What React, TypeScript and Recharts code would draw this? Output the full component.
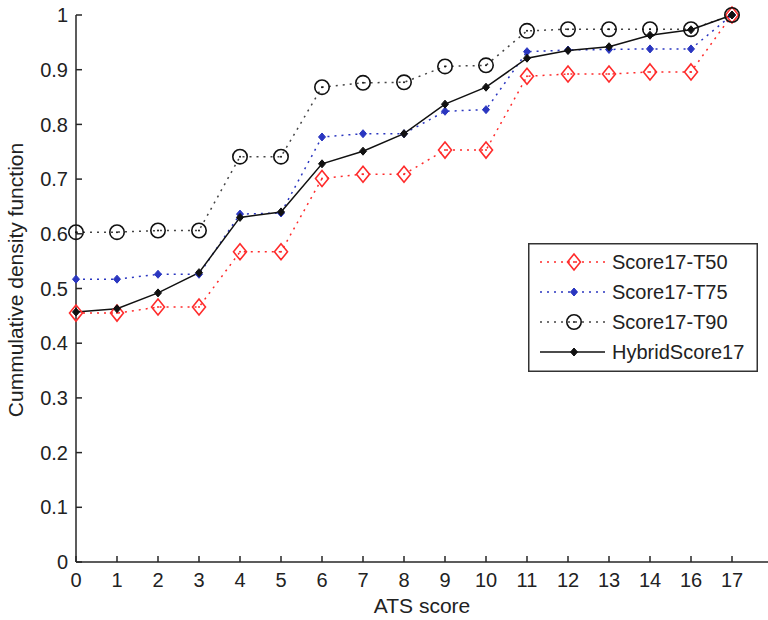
import React from 'react';
import { LineChart, Line, XAxis, YAxis, Legend } from 'recharts';

const atsScores = ['0', '1', '2', '3', '4', '5', '6', '7', '8', '9', '10', '11', '12', '13', '14', '16', '17'];
const scoreT50 = [0.455, 0.455, 0.466, 0.466, 0.567, 0.567, 0.701, 0.709, 0.709, 0.753, 0.753, 0.888, 0.892, 0.892, 0.896, 0.896, 1.0];
const scoreT75 = [0.517, 0.517, 0.526, 0.526, 0.636, 0.638, 0.777, 0.783, 0.783, 0.824, 0.827, 0.933, 0.936, 0.937, 0.938, 0.938, 1.0];
const scoreT90 = [0.603, 0.603, 0.606, 0.606, 0.741, 0.741, 0.868, 0.876, 0.877, 0.906, 0.908, 0.971, 0.974, 0.974, 0.974, 0.974, 1.0];
const hybrid17 = [0.457, 0.463, 0.492, 0.529, 0.630, 0.640, 0.728, 0.751, 0.783, 0.837, 0.868, 0.921, 0.935, 0.942, 0.963, 0.973, 1.0];
const yTicks = [0, 0.1, 0.2, 0.3, 0.4, 0.5, 0.6, 0.7, 0.8, 0.9, 1];
const seriesNames = ['Score17-T50', 'Score17-T75', 'Score17-T90', 'HybridScore17'];

const data = atsScores.map((s, i) => ({
  ats: s,
  t50: scoreT50[i],
  t75: scoreT75[i],
  t90: scoreT90[i],
  hybrid: hybrid17[i],
}));

const FONT = '"Liberation Sans", Arial, Helvetica, sans-serif';
const RED = '#ff2b2b';
const BLUE = '#2a36c0';
const BLACK = '#111';
const AXIS = '#262626';
const TEXT = '#222';

const redMarker = (cx: number, cy: number, key?: string) => (
  <g key={key}>
    <polygon
      points={`${cx},${cy - 8} ${cx + 6.5},${cy} ${cx},${cy + 8} ${cx - 6.5},${cy}`}
      fill="none"
      stroke={RED}
      strokeWidth={1.6}
    />
    <circle cx={cx} cy={cy} r={1} fill={RED} />
  </g>
);
const blueMarker = (cx: number, cy: number, key?: string) => (
  <polygon
    key={key}
    points={`${cx},${cy - 4} ${cx + 3.5},${cy} ${cx},${cy + 4} ${cx - 3.5},${cy}`}
    fill={BLUE}
    stroke={BLUE}
    strokeWidth={1}
  />
);
const circleMarker = (cx: number, cy: number, key?: string) => (
  <g key={key}>
    <circle cx={cx} cy={cy} r={7.2} fill="none" stroke={BLACK} strokeWidth={1.6} />
    <circle cx={cx} cy={cy} r={1} fill={BLACK} />
  </g>
);
const blackMarker = (cx: number, cy: number, key?: string) => (
  <polygon
    key={key}
    points={`${cx},${cy - 4} ${cx + 3.5},${cy} ${cx},${cy + 4} ${cx - 3.5},${cy}`}
    fill={BLACK}
    stroke={BLACK}
    strokeWidth={1}
  />
);

const makeDot = (fn: (cx: number, cy: number, key?: string) => React.ReactElement, tag: string) =>
  (props: any) => {
    const { cx, cy, index } = props;
    if (cx == null || cy == null) return <g key={`${tag}${index}`} />;
    return fn(cx, cy, `${tag}${index}`);
  };

const legendItems = [
  { name: seriesNames[0], color: RED, dash: '2 5', marker: redMarker },
  { name: seriesNames[1], color: BLUE, dash: '2 5', marker: blueMarker },
  { name: seriesNames[2], color: '#444', dash: '2 5', marker: circleMarker },
  { name: seriesNames[3], color: BLACK, dash: undefined, marker: blackMarker },
];

const renderLegend = () => (
  <svg width={230} height={129} style={{ display: 'block' }}>
    <rect x={0.75} y={0.75} width={228.5} height={127.5} fill="#fff" stroke="#333" strokeWidth={1.5} />
    {legendItems.map((it, i) => {
      const y = 19 + i * 30;
      return (
        <g key={it.name}>
          <line x1={12} x2={77} y1={y} y2={y} stroke={it.color} strokeWidth={1.5} strokeDasharray={it.dash} />
          {it.marker(46, y)}
          <text x={84} y={y + 7} fontSize={20} fontFamily={FONT} fill={TEXT}>
            {it.name}
          </text>
        </g>
      );
    })}
  </svg>
);

const renderYLabel = () => (
  <text
    x={23}
    y={280}
    transform="rotate(-90, 23, 280)"
    textAnchor="middle"
    fontSize={21}
    fontFamily={FONT}
    fill={TEXT}
  >
    Cummulative density function
  </text>
);

export default function App() {
  return (
    <div style={{ position: 'absolute', left: 0, top: 0, width: 768, height: 620, background: '#fff' }}>
      <LineChart width={768} height={620} data={data} margin={{ top: 15, right: 0, bottom: 0, left: 0 }}>
        <XAxis
          dataKey="ats"
          type="category"
          height={58}
          padding={{ left: 0, right: 36 }}
          tickSize={-6}
          tickMargin={17}
          interval={0}
          axisLine={{ stroke: AXIS, strokeWidth: 1.5 }}
          tickLine={{ stroke: AXIS, strokeWidth: 1.5 }}
          tick={{ fontSize: 20, fontFamily: FONT, fill: TEXT }}
          label={{ value: 'ATS score', position: 'insideBottom', offset: 7, fontSize: 21, fontFamily: FONT, fill: TEXT }}
        />
        <YAxis
          type="number"
          domain={[0, 1]}
          ticks={yTicks}
          width={76}
          tickSize={-6}
          tickMargin={14}
          interval={0}
          axisLine={{ stroke: AXIS, strokeWidth: 1.5 }}
          tickLine={{ stroke: AXIS, strokeWidth: 1.5 }}
          tick={{ fontSize: 20, fontFamily: FONT, fill: TEXT }}
          tickFormatter={(v: number) => String(v)}
          label={renderYLabel}
        />
        <Legend
          layout="horizontal"
          verticalAlign="middle"
          align="center"
          content={renderLegend}
          wrapperStyle={{ left: 528, top: 243, width: 230, height: 129 }}
        />
        <Line
          dataKey="t50"
          name={seriesNames[0]}
          stroke={RED}
          strokeWidth={1.5}
          strokeDasharray="2 5"
          dot={makeDot(redMarker, 'r')}
          activeDot={false}
          isAnimationActive={false}
        />
        <Line
          dataKey="t75"
          name={seriesNames[1]}
          stroke={BLUE}
          strokeWidth={1.5}
          strokeDasharray="2 5"
          dot={makeDot(blueMarker, 'b')}
          activeDot={false}
          isAnimationActive={false}
        />
        <Line
          dataKey="t90"
          name={seriesNames[2]}
          stroke="#444"
          strokeWidth={1.5}
          strokeDasharray="2 5"
          dot={makeDot(circleMarker, 'c')}
          activeDot={false}
          isAnimationActive={false}
        />
        <Line
          dataKey="hybrid"
          name={seriesNames[3]}
          stroke={BLACK}
          strokeWidth={1.5}
          dot={makeDot(blackMarker, 'k')}
          activeDot={false}
          isAnimationActive={false}
        />
      </LineChart>
    </div>
  );
}
